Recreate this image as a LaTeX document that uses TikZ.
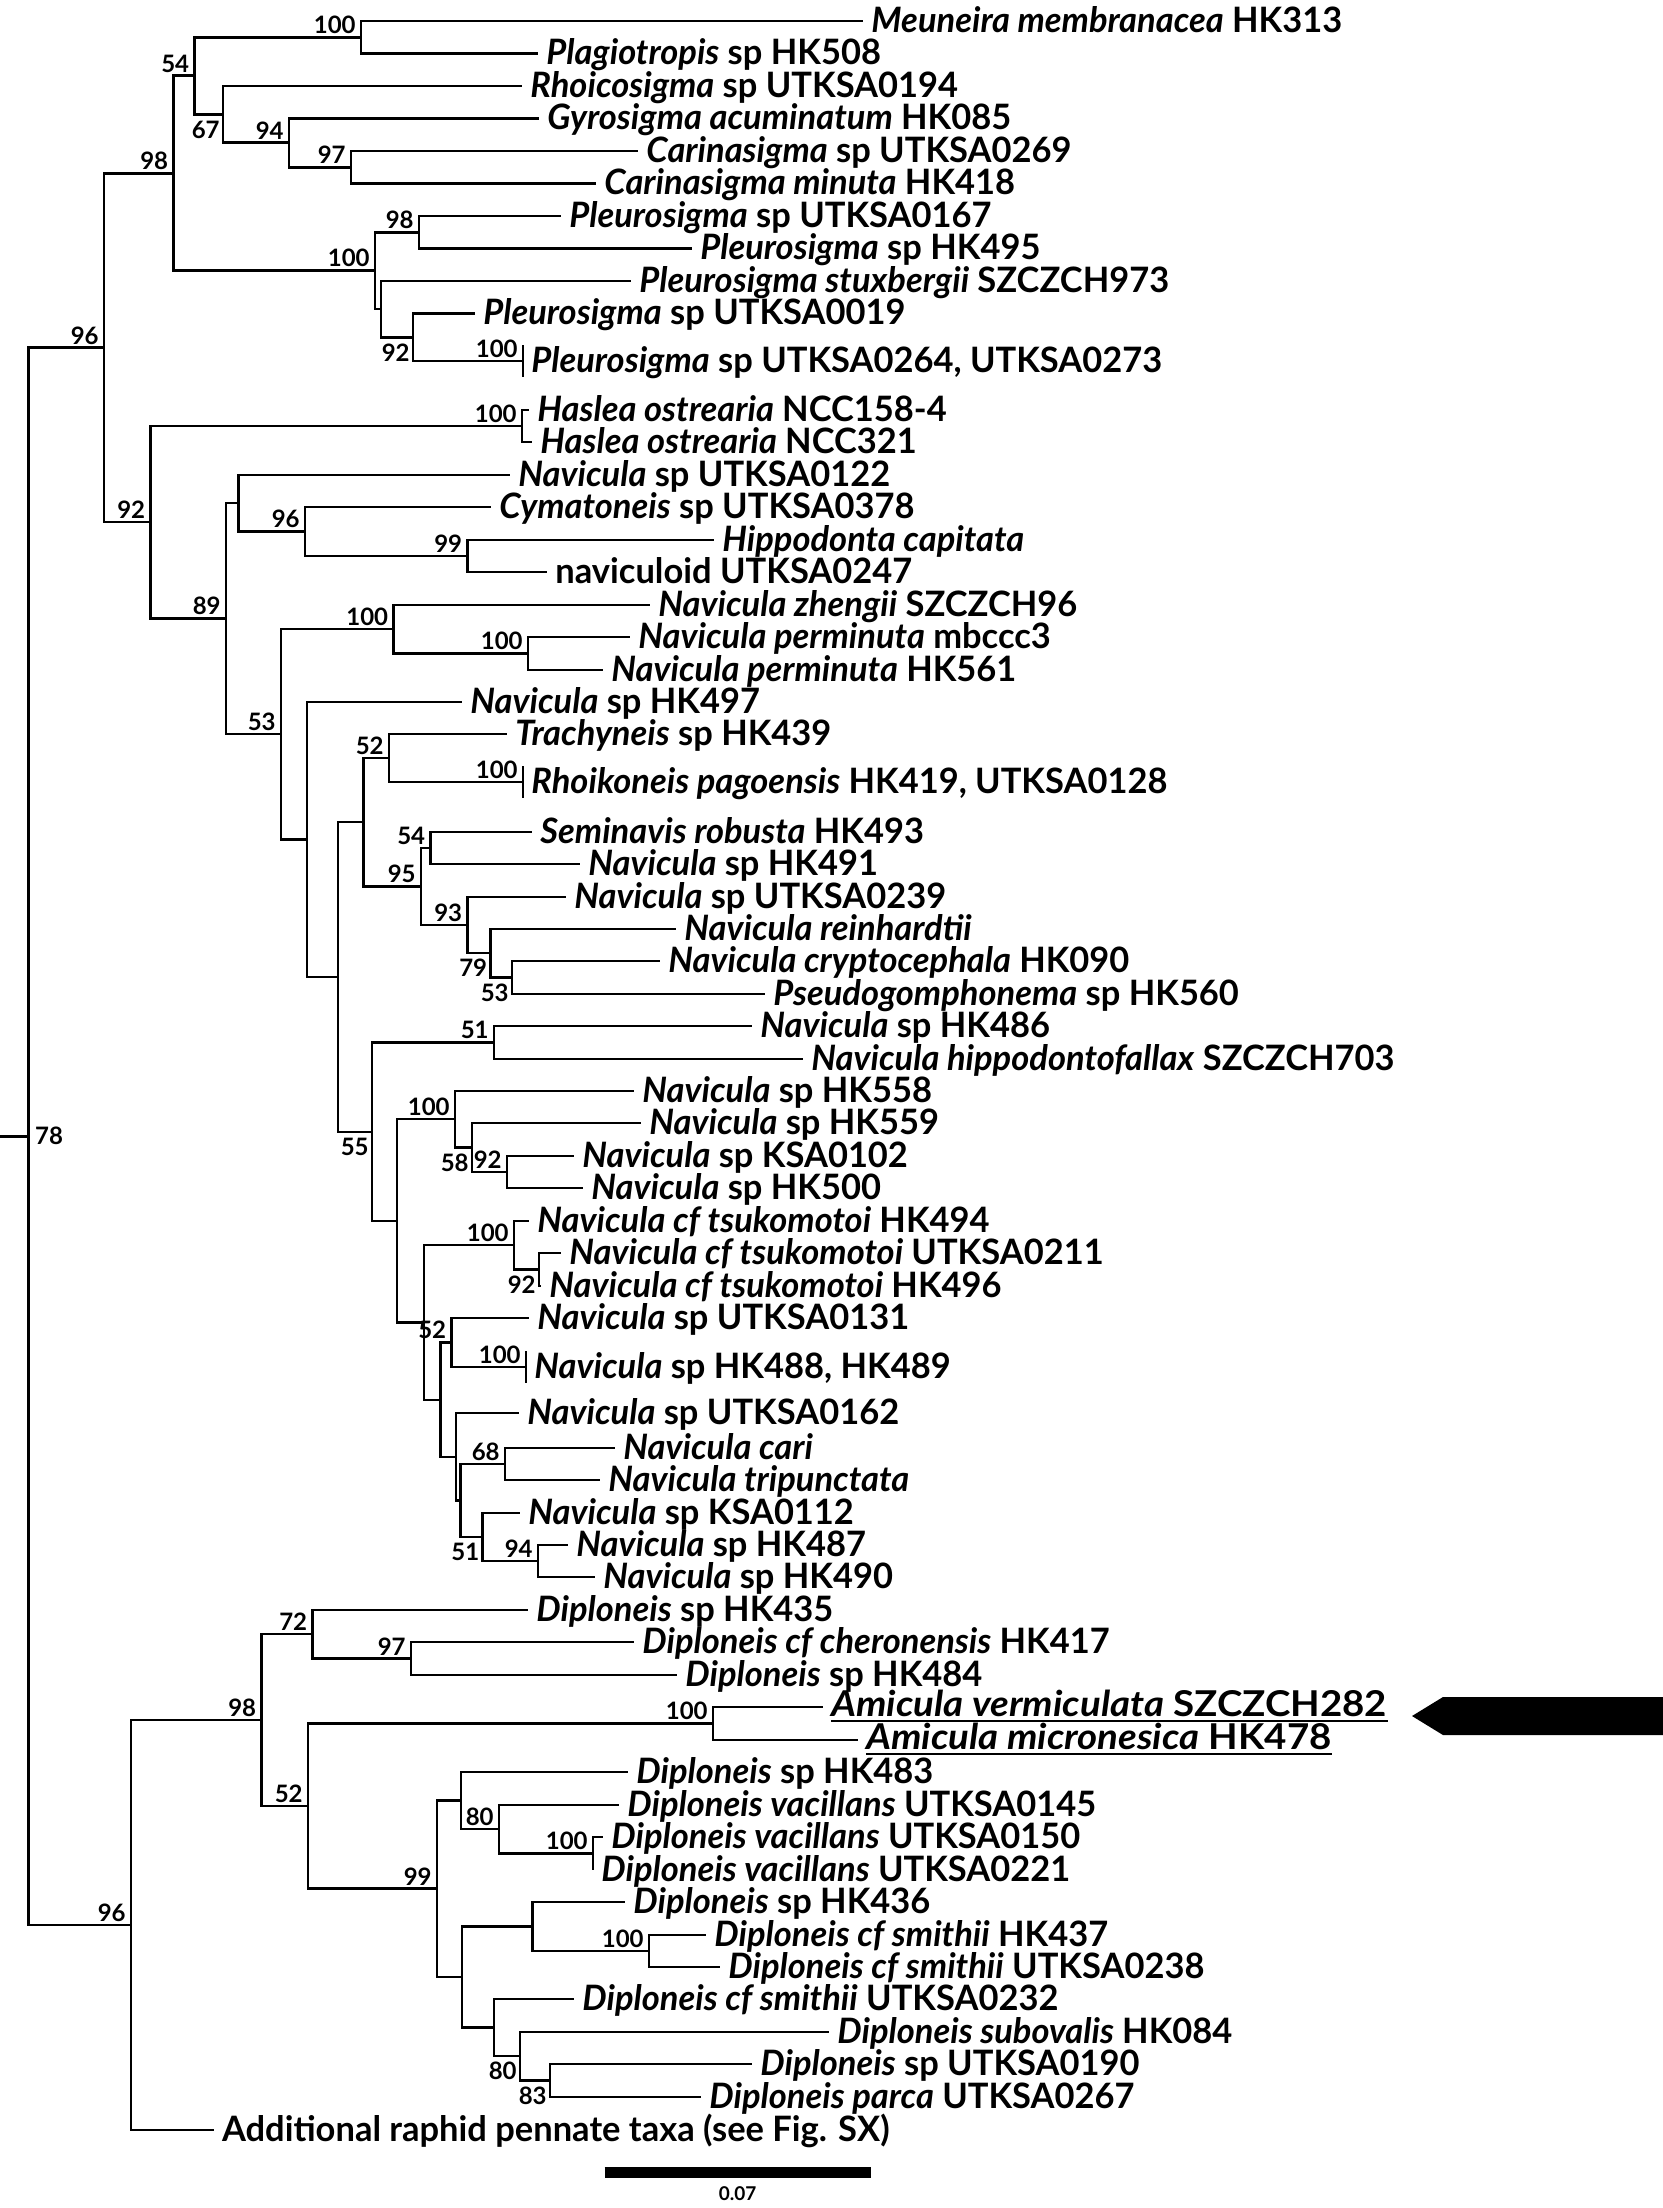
\documentclass[tikz,border=0pt]{standalone}
\usepackage{fontspec}
\setmainfont{Lato}
\newfontfamily\taxafont[FakeStretch=0.985]{Lato}
\newfontfamily\amifont[FakeStretch=1.08]{Lato}
\usetikzlibrary{calc}
\tikzset{
  branch/.style={line width=1.35pt},
  taxon/.style={anchor=base west, inner sep=0pt, xshift=4pt, yshift=-5.5pt,
    font=\taxafont\fontsize{17.5}{19}\selectfont\bfseries},
  amicula/.style={anchor=base west, inner sep=0pt, xshift=4pt, yshift=-4.5pt,
    font=\amifont\fontsize{17.8}{19}\selectfont\bfseries},
  boot/.style={inner sep=0pt, font=\fontsize{12}{13}\selectfont\bfseries},
  bootup/.style={boot, anchor=south east, xshift=-2.5pt, yshift=1.5pt},
  bootdn/.style={boot, anchor=north east, xshift=-1.5pt, yshift=-3pt}
}
\newcommand*{\NodeList}[1]{% #1 = list of name/x/y
\foreach \n/\x/\y in {#1} {
\coordinate (\n) at (\x,\y);
}%
}
\newcommand*{\TaxaList}[1]{% #1 = list of name/x/y/text
\foreach \n/\x/\y/\txt in {#1} {
\coordinate (\n) at (\x,\y);
\node [taxon] (\n-l) at (\n) {\txt};
}%
}
\newcommand*{\CladeList}[1]{% #1 = list of parent/child
\foreach \p/\c in {#1} {
\draw [branch] (\p) |- (\c);
}%
}
\newcommand*{\BootUp}[1]{% #1 = list of node/value
\foreach \n/\v in {#1} {
\node [bootup] (\n-b) at (\n) {\v};
}%
}
\newcommand*{\BootDown}[1]{% #1 = list of node/value
\foreach \n/\v in {#1} {
\node [bootdn] (\n-b) at (\n) {\v};
}%
}
\begin{document}
\begin{tikzpicture}[x=0.5pt,y=-0.5pt]
\useasboundingbox (0,0) rectangle (1663,2208);

% internal nodes
\NodeList{r0/0/1136.3, r/28.7/1136.3, n96a/104/347.6, n98a/173.5/173.2,
  n54/194.5/75.8, n100m/361/37.25, n67/223/114.4, n94/289/142.75,
  n97/351/167.25, n100p/375/270.5, n98p/419/232.25, nP1/381/309,
  n92p/413/337.25, n92a/150.5/522, nHas/522/426, n89/226/618.5,
  nA1/238.5/503, n96c/305/531.5, n99h/467.5/556, n53/281/734,
  n100z/393.5/629, n100pm/528/653.5, nE/307/839.5, nD/338/977,
  nB1/363.5/822, n52r/389/758, n95/421/886.5, n54s/430.5/848,
  n93/467.5/925, n79/490.5/953, n53c/512/977.5, n55/372/1132,
  n51a/494/1042.5, nH/397/1221, n100h/455/1119, n58/472/1147.5,
  n92k/507/1172, nT/424/1322.5, n100t/514/1245, n92t/539/1269.5,
  nA/440.7/1400, n52b/451.5/1342.5, nB/456/1457, nC/460.7/1500.5,
  n68/505/1464, n51b/482.7/1537, n94b/538/1561, n96b/131/1925,
  n98d/261.5/1720, n72/312.5/1634, n97d/411/1658.5, n52d/308/1806,
  n100a/713/1723.5, n99d/437/1888.75, nF/461/1800.5, n80a/499/1829,
  n100v/593/1853.5, nJ/462/1977, nG/532.5/1926.5, n100s/649/1951,
  nI/494/2027.5, n80b/520/2056, n83/550/2080.5}

% taxa
\TaxaList{
  t1/863/21/{\textit{Meuneira membranacea} HK313},
  t2/538/53.5/{\textit{Plagiotropis} sp HK508},
  t3/522/86/{\textit{Rhoicosigma} sp UTKSA0194},
  t4/539/118.5/{\textit{Gyrosigma acuminatum} HK085},
  t5/638/151/{\textit{Carinasigma} sp UTKSA0269},
  t6/596/183.5/{\textit{Carinasigma minuta} HK418},
  t7/561/216/{\textit{Pleurosigma} sp UTKSA0167},
  t8/692/248.5/{\textit{Pleurosigma} sp HK495},
  t9/631/281/{\textit{Pleurosigma stuxbergii} SZCZCH973},
  t10/475/313.5/{\textit{Pleurosigma} sp UTKSA0019},
  t11/523/361/{\textit{Pleurosigma} sp UTKSA0264, UTKSA0273},
  t12/529/410/{\textit{Haslea ostrearia} NCC158-4},
  t13/532/442/{\textit{Haslea ostrearia} NCC321},
  t14/510/475/{\textit{Navicula} sp UTKSA0122},
  t15/491/507/{\textit{Cymatoneis} sp UTKSA0378},
  t16/714/540/{\textit{Hippodonta capitata}},
  t17/547/572/{naviculoid UTKSA0247},
  t18/650/605/{\textit{Navicula zhengii} SZCZCH96},
  t19/630/637/{\textit{Navicula perminuta} mbccc3},
  t20/603/670/{\textit{Navicula perminuta} HK561},
  t21/462/702/{\textit{Navicula} sp HK497},
  t22/507/734/{\textit{Trachyneis} sp HK439},
  t23/523/782/{\textit{Rhoikoneis pagoensis} HK419, UTKSA0128},
  t24/532/832/{\textit{Seminavis robusta} HK493},
  t25/580/864/{\textit{Navicula} sp HK491},
  t26/566/897/{\textit{Navicula} sp UTKSA0239},
  t27/676/929/{\textit{Navicula reinhardtii}},
  t28/660/961/{\textit{Navicula cryptocephala} HK090},
  t29/765/994/{\textit{Pseudogomphonema} sp HK560},
  t30/752/1026/{\textit{Navicula} sp HK486},
  t31/803/1059/{\textit{Navicula hippodontofallax} SZCZCH703},
  t32/634/1091/{\textit{Navicula} sp HK558},
  t33/641/1123/{\textit{Navicula} sp HK559},
  t34/574/1156/{\textit{Navicula} sp KSA0102},
  t35/583/1188/{\textit{Navicula} sp HK500},
  t36/529/1221/{\textit{Navicula cf tsukomotoi} HK494},
  t37/561/1253/{\textit{Navicula cf tsukomotoi} UTKSA0211},
  t38/541/1286/{\textit{Navicula cf tsukomotoi} HK496},
  t39/529/1318/{\textit{Navicula} sp UTKSA0131},
  t40/526/1367/{\textit{Navicula} sp HK488, HK489},
  t41/519/1413/{\textit{Navicula} sp UTKSA0162},
  t42/615/1448/{\textit{Navicula cari}},
  t43/600/1480/{\textit{Navicula tripunctata}},
  t44/520/1513/{\textit{Navicula} sp KSA0112},
  t45/568/1545/{\textit{Navicula} sp HK487},
  t46/595/1577/{\textit{Navicula} sp HK490},
  t47/528/1610/{\textit{Diploneis} sp HK435},
  t48/634/1642/{\textit{Diploneis cf cheronensis} HK417},
  t49/677/1675/{\textit{Diploneis} sp HK484},
  t52/628/1772/{\textit{Diploneis} sp HK483},
  t53/619/1805/{\textit{Diploneis vacillans} UTKSA0145},
  t54/603/1837/{\textit{Diploneis vacillans} UTKSA0150},
  t55/593/1870/{\textit{Diploneis vacillans} UTKSA0221},
  t56/625/1902/{\textit{Diploneis} sp HK436},
  t57/706/1935/{\textit{Diploneis cf smithii} HK437},
  t58/720/1967/{\textit{Diploneis cf smithii} UTKSA0238},
  t59/574/1999/{\textit{Diploneis cf smithii} UTKSA0232},
  t60/829/2032/{\textit{Diploneis subovalis} HK084},
  t61/752/2064/{\textit{Diploneis} sp UTKSA0190},
  t62/701/2097/{\textit{Diploneis parca} UTKSA0267},
  t63/213.6/2130/{Additional raphid pennate taxa (see Fig. SX)}}

% new taxa
\coordinate (t50) at (823,1707);
\coordinate (t51) at (858,1740);
\node [amicula] (t50-l) at (t50) {\textit{Amicula vermiculata} SZCZCH282};
\node [amicula] (t51-l) at (t51) {\textit{Amicula micronesica} HK478};
\foreach \n in {t50,t51} {
\draw [line width=1.2pt] ([yshift=-2.5pt]\n-l.base west) -- ([yshift=-2.5pt]\n-l.base east);
}

% branches
\draw [branch] (r0) -- (r);
\CladeList{r/n96a, r/n96b, n96a/n98a, n96a/n92a, n98a/n54, n98a/n100p,
  n54/n100m, n54/n67, n100m/t1, n100m/t2, n67/t3, n67/n94, n94/t4, n94/n97,
  n97/t5, n97/t6, n100p/n98p, n100p/nP1, n98p/t7, n98p/t8, nP1/t9, nP1/n92p,
  n92p/t10, n92p/t11, n92a/nHas, n92a/n89, nHas/t12, nHas/t13,
  n89/nA1, n89/n53, nA1/t14, nA1/n96c, n96c/t15, n96c/n99h, n99h/t16, n99h/t17,
  n53/n100z, n53/nE, n100z/t18, n100z/n100pm, n100pm/t19, n100pm/t20,
  nE/t21, nE/nD, nD/nB1, nD/n55, nB1/n52r, nB1/n95, n52r/t22, n52r/t23,
  n95/n54s, n95/n93, n54s/t24, n54s/t25, n93/t26, n93/n79, n79/t27, n79/n53c,
  n53c/t28, n53c/t29, n55/n51a, n55/nH, n51a/t30, n51a/t31,
  nH/n100h, nH/nT, n100h/t32, n100h/n58, n58/t33, n58/n92k, n92k/t34, n92k/t35,
  nT/n100t, nT/nA, n100t/t36, n100t/n92t, n92t/t37, n92t/t38,
  nA/n52b, nA/nB, n52b/t39, n52b/t40, nB/t41, nB/nC, nC/n68, nC/n51b,
  n68/t42, n68/t43, n51b/t44, n51b/n94b, n94b/t45, n94b/t46,
  n96b/n98d, n96b/t63, n98d/n72, n98d/n52d, n72/t47, n72/n97d, n97d/t48, n97d/t49,
  n52d/n100a, n52d/n99d, n100a/t50, n100a/t51, n99d/nF, n99d/nJ,
  nF/t52, nF/n80a, n80a/t53, n80a/n100v, n100v/t54, n100v/t55,
  nJ/nG, nJ/nI, nG/t56, nG/n100s, n100s/t57, n100s/t58,
  nI/t59, nI/n80b, n80b/t60, n80b/n83, n83/t61, n83/t62}
\foreach \n in {t11,t23,t40} {
\draw [branch] ([yshift=8pt]\n) -- ([yshift=-8pt]\n);
}

% bootstrap values
\BootUp{n100m/100, n54/54, n94/94, n97/97, n98a/98, n96a/96, n100p/100,
  n98p/98, t11/100, nHas/100, n92a/92, n89/89, n96c/96, n99h/99, n53/53,
  n100z/100, n100pm/100, n52r/52, t23/100, n54s/54, n95/95, n93/93, n51a/51,
  n100h/100, n92k/92, n100t/100, n52b/52, t40/100, n68/68, n94b/94, n72/72,
  n97d/97, n98d/98, n52d/52, n100a/100, n99d/99, n80a/80, n100v/100,
  n100s/100, n96b/96}
\BootDown{n67/67, n92p/92, n79/79, n53c/53, n55/55, n58/58, n92t/92,
  n51b/51, n80b/80, n83/83}
\node [boot, anchor=west, xshift=3pt] (r-b) at (r) {78};

% marker
\coordinate (mk) at (1412,1716);
\fill (mk) -- (1443,1697) -- (1663,1697) -- (1663,1735) -- (1443,1735) -- cycle;

% scale bar
\coordinate (sb1) at (604.6,2172.5);
\coordinate (sb2) at (870.5,2172.5);
\draw [line width=5.5pt] (sb1) -- (sb2);
\node [boot, font=\fontsize{9.5}{10}\selectfont\bfseries, anchor=north]
  (sb-l) at ($(sb1)!.5!(sb2)+(0,14)$) {0.07};
\end{tikzpicture}
\end{document}
